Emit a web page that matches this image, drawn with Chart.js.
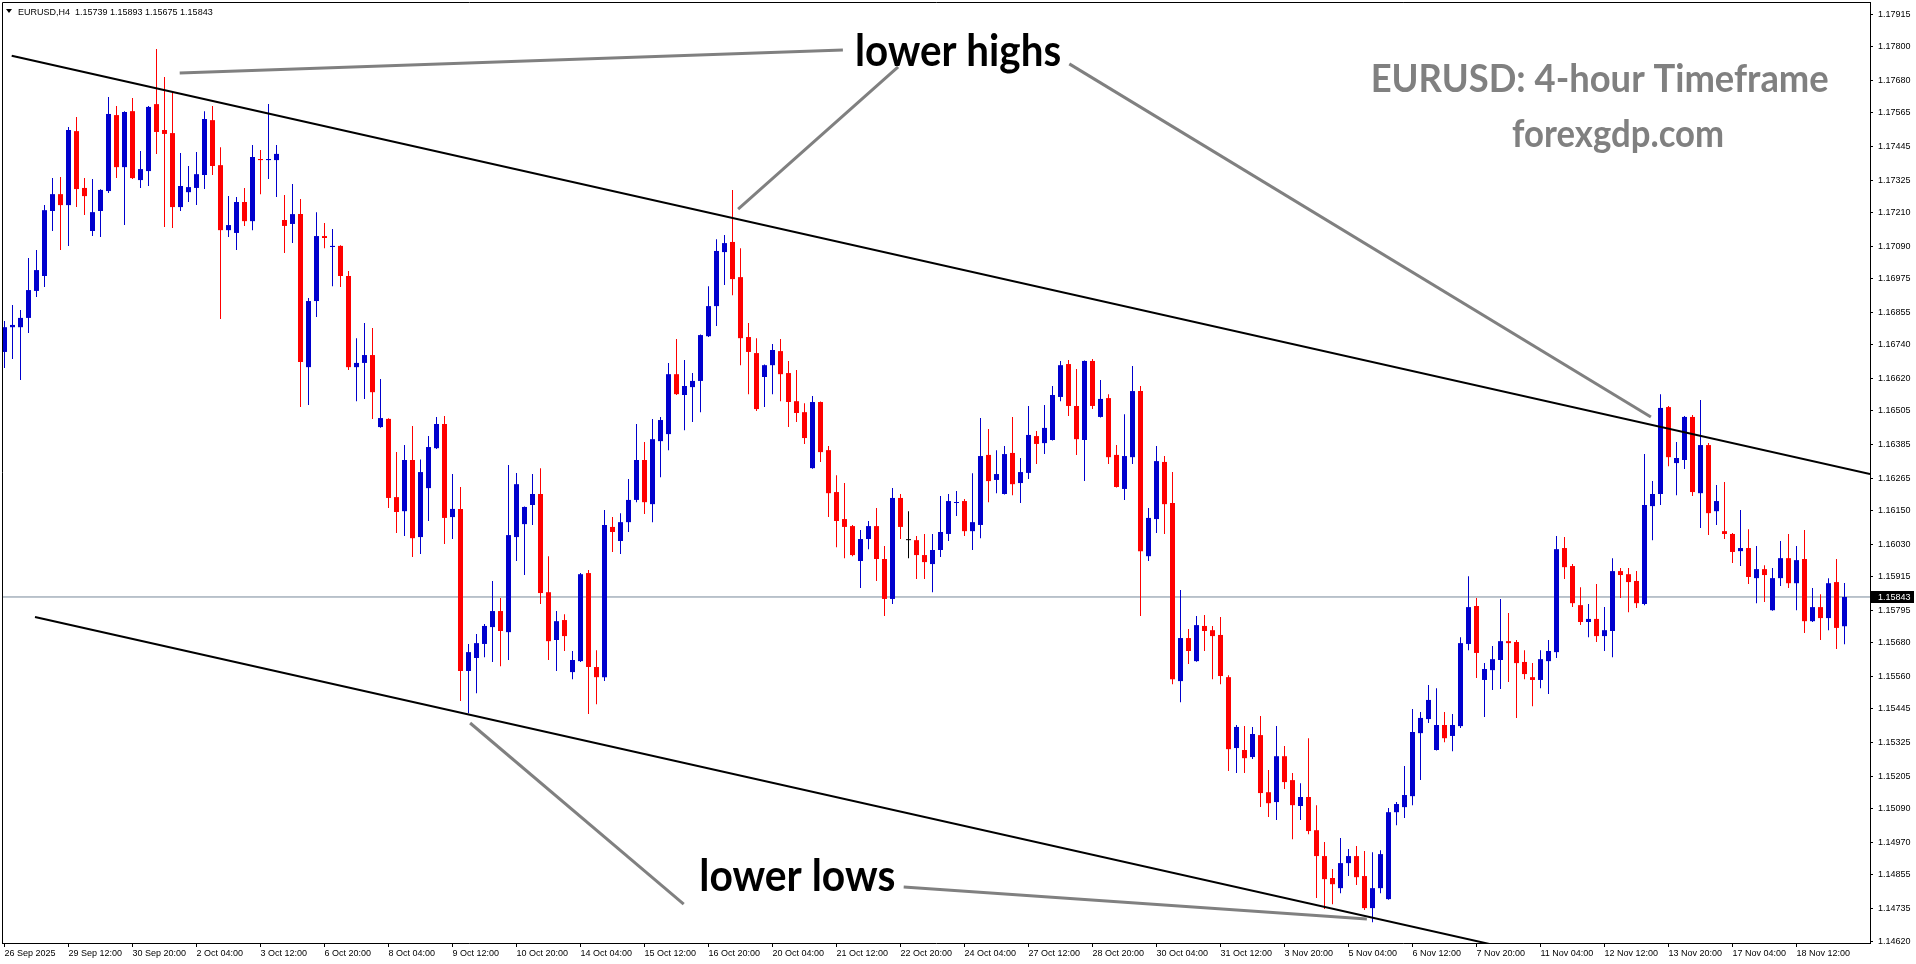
<!DOCTYPE html>
<html><head><meta charset="utf-8">
<script src="https://cdn.jsdelivr.net/npm/chart.js"></script>
<style>html,body{margin:0;padding:0;background:#fff;overflow:hidden}#wrap{width:1916px;height:964px}</style>
</head><body><div id="wrap"><canvas id="c" width="1916" height="964"></canvas></div>
<script>
// ---------------- data (EURUSD H4) ----------------
const chartTitle = 'EURUSD,H4';
const opens = [
1.16714,1.16802,1.16802,1.16835,1.16931,1.16984,1.17215,1.17275,1.17236,1.17499,
1.17297,1.17144,1.17215,1.17286,1.17556,1.17371,1.17570,1.17325,1.17357,1.17595,
1.17503,1.17492,1.17229,1.17282,1.17297,1.17343,1.17538,1.17378,1.17147,1.17137,
1.17247,1.17179,1.17400,1.17396,1.17396,1.17183,1.17169,1.17204,1.16660,1.16895,
1.17126,1.17087,1.17091,1.16984,1.16660,1.16675,1.16703,1.16447,1.16476,1.16198,
1.16148,1.16330,1.16056,1.16230,1.16372,1.16458,1.16127,1.16156,1.15580,1.15626,
1.15676,1.15736,1.15793,1.15718,1.16056,1.16102,1.16170,1.16209,1.15860,1.15690,
1.15761,1.15576,1.15615,1.15928,1.15594,1.15558,1.16092,1.16042,1.16109,1.16188,
1.16330,1.16173,1.16397,1.16422,1.16635,1.16561,1.16589,1.16611,1.16770,1.16877,
1.17069,1.17105,1.16980,1.16767,1.16710,1.16625,1.16667,1.16717,1.16639,1.16539,
1.16500,1.16301,1.16536,1.16365,1.16216,1.16120,1.16095,1.15971,1.16049,1.16095,
1.15978,1.15836,1.16195,1.16045,1.16045,1.15992,1.15960,1.16010,1.16067,1.16177,
1.16184,1.16077,1.16099,1.16348,1.16259,1.16209,1.16355,1.16248,1.16284,1.16415,
1.16390,1.16401,1.16554,1.16671,1.16522,1.16401,1.16682,1.16483,1.16550,1.16348,
1.16227,1.16340,1.16575,1.15988,1.16120,1.16323,1.16177,1.15544,1.15697,1.15615,
1.15740,1.15725,1.15708,1.15558,1.15306,1.15299,1.15274,1.15352,1.15149,1.15114,
1.15277,1.15192,1.15100,1.15132,1.15014,1.14922,1.14844,1.14808,1.14897,1.14922,
1.14851,1.14737,1.14808,1.14769,1.15078,1.15096,1.15135,1.15359,1.15409,1.15299,
1.15388,1.15349,1.15384,1.15676,1.15811,1.15548,1.15583,1.15619,1.15686,1.15683,
1.15612,1.15558,1.15548,1.15615,1.15647,1.16017,1.15953,1.15814,1.15754,1.15765,
1.15704,1.15722,1.15935,1.15924,1.15900,1.15818,1.16166,1.16209,1.16518,1.16319,
1.16330,1.16483,1.16212,1.16383,1.16148,1.16077,1.16067,1.16006,1.16017,1.15910,
1.15942,1.15796,1.15910,1.15981,1.15892,1.15978,1.15757,1.15807,1.15768,1.15896,
1.15739];
const highs = [
1.16824,1.16881,1.16863,1.17048,1.17076,1.17236,1.17332,1.17336,1.17514,1.17549,
1.17332,1.17329,1.17292,1.17620,1.17588,1.17570,1.17617,1.17428,1.17588,1.17791,
1.17691,1.17642,1.17421,1.17375,1.17425,1.17570,1.17588,1.17442,1.17268,1.17265,
1.17297,1.17450,1.17432,1.17595,1.17450,1.17272,1.17311,1.17258,1.16906,1.17211,
1.17172,1.17151,1.17093,1.17002,1.16763,1.16817,1.16799,1.16618,1.16478,1.16358,
1.16383,1.16451,1.16332,1.16415,1.16483,1.16486,1.16280,1.16234,1.15676,1.15711,
1.15747,1.15900,1.15839,1.16312,1.16284,1.16165,1.16280,1.16301,1.15988,1.15793,
1.15782,1.15651,1.15928,1.15939,1.15654,1.16152,1.16127,1.16141,1.16262,1.16458,
1.16394,1.16476,1.16483,1.16675,1.16760,1.16685,1.16639,1.16776,1.16948,1.17115,
1.17130,1.17290,1.17083,1.16817,1.16763,1.16669,1.16742,1.16760,1.16682,1.16650,
1.16532,1.16557,1.16538,1.16380,1.16276,1.16248,1.16099,1.16081,1.16113,1.16159,
1.16024,1.16230,1.16209,1.16148,1.16060,1.16067,1.16067,1.16202,1.16209,1.16220,
1.16191,1.16283,1.16479,1.16440,1.16365,1.16380,1.16483,1.16337,1.16522,1.16433,
1.16525,1.16593,1.16682,1.16685,1.16653,1.16684,1.16689,1.16614,1.16564,1.16383,
1.16493,1.16664,1.16593,1.16159,1.16380,1.16344,1.16287,1.15868,1.15729,1.15775,
1.15779,1.15740,1.15772,1.15565,1.15388,1.15384,1.15381,1.15420,1.15228,1.15384,
1.15313,1.15217,1.15181,1.15341,1.15103,1.14972,1.14876,1.14986,1.14947,1.14958,
1.14940,1.14936,1.14943,1.15093,1.15114,1.15242,1.15445,1.15434,1.15530,1.15519,
1.15434,1.15427,1.15700,1.15917,1.15839,1.15608,1.15669,1.15836,1.15786,1.15690,
1.15654,1.15608,1.15654,1.15690,1.16060,1.16056,1.15960,1.15878,1.15818,1.15889,
1.15807,1.15981,1.15946,1.15946,1.15935,1.16351,1.16255,1.16564,1.16522,1.16394,
1.16486,1.16490,1.16543,1.16390,1.16241,1.16252,1.16070,1.16152,1.16084,1.16024,
1.15956,1.15946,1.16042,1.16067,1.16024,1.16081,1.15875,1.15853,1.15910,1.15978,
1.15893];
const lows = [
1.16657,1.16689,1.16614,1.16781,1.16909,1.16945,1.17144,1.17076,1.17091,1.17229,
1.17201,1.17126,1.17123,1.17279,1.17332,1.17165,1.17329,1.17297,1.17304,1.17418,
1.17158,1.17155,1.17215,1.17247,1.17236,1.17293,1.17343,1.16831,1.17123,1.17076,
1.17162,1.17147,1.17275,1.17329,1.17265,1.17066,1.17101,1.16518,1.16525,1.16838,
1.17083,1.16948,1.16945,1.16650,1.16539,1.16547,1.16476,1.16445,1.16159,1.16070,
1.16060,1.15985,1.15996,1.16113,1.16369,1.16031,1.16049,1.15473,1.15430,1.15501,
1.15629,1.15612,1.15597,1.15619,1.15971,1.15921,1.16099,1.15818,1.15619,1.15580,
1.15651,1.15551,1.15612,1.15427,1.15462,1.15544,1.16003,1.15996,1.16074,1.16180,
1.16138,1.16109,1.16269,1.16365,1.16561,1.16436,1.16465,1.16500,1.16767,1.16806,
1.16952,1.16916,1.16667,1.16564,1.16504,1.16518,1.16564,1.16539,1.16447,1.16465,
1.16387,1.16299,1.16323,1.16127,1.16020,1.15981,1.15988,1.15875,1.16013,1.15900,
1.15775,1.15818,1.16049,1.15981,1.15907,1.15907,1.15860,1.15985,1.16042,1.16131,
1.16060,1.16010,1.16052,1.16180,1.16212,1.16207,1.16205,1.16177,1.16262,1.16316,
1.16351,1.16399,1.16539,1.16486,1.16348,1.16255,1.16511,1.16481,1.16316,1.16232,
1.16188,1.16316,1.15775,1.15971,1.16070,1.16067,1.15533,1.15469,1.15605,1.15613,
1.15651,1.15551,1.15533,1.15224,1.15217,1.15217,1.15267,1.15096,1.15061,1.15050,
1.15160,1.14982,1.15050,1.15000,1.14773,1.14734,1.14751,1.14790,1.14851,1.14819,
1.14730,1.14687,1.14790,1.14767,1.15032,1.15057,1.15103,1.15192,1.15395,1.15297,
1.15327,1.15295,1.15377,1.15654,1.15555,1.15416,1.15512,1.15516,1.15541,1.15413,
1.15551,1.15455,1.15519,1.15498,1.15626,1.15907,1.15807,1.15743,1.15700,1.15683,
1.15651,1.15629,1.15839,1.15789,1.15804,1.15814,1.16045,1.16170,1.16308,1.16205,
1.16298,1.16202,1.16088,1.16063,1.16099,1.16049,1.15964,1.15953,1.15889,1.15821,
1.15825,1.15794,1.15882,1.15875,1.15796,1.15715,1.15754,1.15690,1.15725,1.15658,
1.15675];
const closes = [
1.16802,1.16810,1.16835,1.16934,1.17005,1.17218,1.17275,1.17236,1.17503,1.17293,
1.17268,1.17211,1.17290,1.17560,1.17371,1.17567,1.17332,1.17364,1.17585,1.17496,
1.17489,1.17229,1.17304,1.17300,1.17346,1.17542,1.17375,1.17147,1.17165,1.17247,
1.17179,1.17407,1.17396,1.17400,1.17418,1.17162,1.17204,1.16678,1.16895,1.17126,
1.17119,1.17091,1.16984,1.16660,1.16675,1.16703,1.16571,1.16479,1.16195,1.16145,
1.16330,1.16052,1.16287,1.16376,1.16458,1.16124,1.16156,1.15580,1.15647,1.15679,
1.15740,1.15793,1.15722,1.16063,1.16244,1.16163,1.16209,1.15857,1.15686,1.15757,
1.15704,1.15619,1.15924,1.15594,1.15558,1.16099,1.16074,1.16109,1.16188,1.16330,
1.16180,1.16404,1.16472,1.16635,1.16564,1.16593,1.16611,1.16774,1.16877,1.17073,
1.17101,1.16973,1.16763,1.16714,1.16511,1.16667,1.16721,1.16635,1.16536,1.16497,
1.16408,1.16536,1.16358,1.16212,1.16113,1.16092,1.15992,1.16049,1.16095,1.15978,
1.15836,1.16195,1.16092,1.16045,1.15992,1.15967,1.16010,1.16074,1.16184,1.16180,
1.16077,1.16109,1.16344,1.16255,1.16280,1.16351,1.16244,1.16287,1.16419,1.16387,
1.16444,1.16561,1.16667,1.16522,1.16404,1.16682,1.16522,1.16547,1.16340,1.16234,
1.16344,1.16575,1.16006,1.16124,1.16326,1.16173,1.15551,1.15697,1.15651,1.15743,
1.15722,1.15704,1.15562,1.15302,1.15381,1.15270,1.15356,1.15146,1.15110,1.15277,
1.15185,1.15103,1.15132,1.15011,1.14922,1.14840,1.14822,1.14897,1.14922,1.14847,
1.14737,1.14808,1.14929,1.15078,1.15107,1.15139,1.15363,1.15413,1.15477,1.15388,
1.15341,1.15388,1.15679,1.15807,1.15644,1.15587,1.15622,1.15686,1.15679,1.15608,
1.15569,1.15548,1.15622,1.15651,1.16013,1.15949,1.15821,1.15754,1.15765,1.15704,
1.15725,1.15935,1.15921,1.15896,1.15821,1.16170,1.16209,1.16515,1.16340,1.16337,
1.16483,1.16216,1.16383,1.16141,1.16184,1.16067,1.16003,1.16017,1.15914,1.15942,
1.15921,1.15910,1.15981,1.15892,1.15974,1.15757,1.15807,1.15768,1.15892,1.15733,
1.15843];
// time-axis labels, one every 8 bars
const barsPerTimeLabel = 8;
const xTickLabels = ['26 Sep 2025','29 Sep 12:00','30 Sep 20:00','2 Oct 04:00','3 Oct 12:00','6 Oct 20:00','8 Oct 04:00','9 Oct 12:00','10 Oct 20:00','14 Oct 04:00','15 Oct 12:00','16 Oct 20:00','20 Oct 04:00','21 Oct 12:00','22 Oct 20:00','24 Oct 04:00','27 Oct 12:00','28 Oct 20:00','30 Oct 04:00','31 Oct 12:00','3 Nov 20:00','5 Nov 04:00','6 Nov 12:00','7 Nov 20:00','11 Nov 04:00','12 Nov 12:00','13 Nov 20:00','17 Nov 04:00','18 Nov 12:00'];
// price-axis labels
const yTickLabels = ['1.17915','1.17800','1.17680','1.17565','1.17445','1.17325','1.17210','1.17090','1.16975','1.16855','1.16740','1.16620','1.16505','1.16385','1.16265','1.16150','1.16030','1.15915','1.15795','1.15680','1.15560','1.15445','1.15325','1.15205','1.15090','1.14970','1.14855','1.14735','1.14620'];
const lastPrice = 1.15843;
// trend lines & pointers, as [bar index, price] pairs
const upperTrend = [[0.9, 1.17767], [233.19, 1.16280]];
const lowerTrend = [[3.81, 1.15772], [185.7, 1.14609]];
const pointerLines = [
  [[21.9, 1.17706], [104.8, 1.17787]],
  [[133.1, 1.17738], [205.8, 1.16483]],
  [[111.7, 1.17727], [91.7, 1.17222]],
  [[58.2, 1.15395], [84.9, 1.14751]],
  [[112.4, 1.14812], [170.3, 1.14698]]
];
const noteTexts = ['lower highs', 'lower lows', 'EURUSD: 4-hour Timeframe', 'forexgdp.com'];
const noteAnchors = [[119.2, 1.17730], [99.1, 1.14797], [199.4, 1.17638], [201.7, 1.17442]];

// ---------------- styling ----------------
const noteStyles = [
  {size: 43, width: 206, color: '#000000'},
  {size: 43, width: 196, color: '#000000'},
  {size: 39, width: 458, color: '#808080'},
  {size: 38, width: 212, color: '#808080'}
];
const UP = '#0000cd', DOWN = '#ff0000', FLAT = '#000000';
const AXIS_FONT = {family: 'Liberation Sans, Arial, sans-serif', size: 9};
const idx = opens.map((_, i) => i);
const candleColor = (c) => {
  const i = c.dataIndex;
  if (i === undefined) return UP;
  return closes[i] > opens[i] ? UP : (closes[i] < opens[i] ? DOWN : FLAT);
};
const X_MIN = -0.3125, X_MAX = 233.1875;
const Y_MIN = 1.14613, Y_MAX = 1.17958;
const toXY = (pts) => pts.map(p => ({x: p[0], y: p[1]}));
const lineDS = (pts, color, width, order) => ({
  type: 'line', data: toXY(pts), borderColor: color, borderWidth: width,
  pointRadius: 0, tension: 0, fill: false, order, borderCapStyle: 'butt'
});

const overlay = {
  id: 'mt4overlay',
  afterDraw(chart) {
    const ctx = chart.ctx, a = chart.chartArea;
    const xs = chart.scales.x, ys = chart.scales.y;
    ctx.save();
    // frame left/top
    ctx.strokeStyle = '#000'; ctx.lineWidth = 1;
    ctx.beginPath();
    ctx.moveTo(a.left + 0.5, a.bottom); ctx.lineTo(a.left + 0.5, a.top + 0.5); ctx.lineTo(a.right, a.top + 0.5);
    ctx.stroke();
    // title with triangle
    ctx.fillStyle = '#000';
    ctx.beginPath();
    ctx.moveTo(a.left + 4, a.top + 7); ctx.lineTo(a.left + 10, a.top + 7); ctx.lineTo(a.left + 7, a.top + 11);
    ctx.closePath(); ctx.fill();
    ctx.font = '9px Liberation Sans, Arial, sans-serif';
    ctx.textBaseline = 'alphabetic'; ctx.textAlign = 'left';
    const n = opens.length - 1;
    const f = v => v.toFixed(5);
    ctx.fillText(chartTitle + '  ' + f(opens[n]) + ' ' + f(highs[n]) + ' ' + f(lows[n]) + ' ' + f(closes[n]), a.left + 16, a.top + 13);
    // notes
    noteTexts.forEach((t, k) => {
      const st = noteStyles[k];
      ctx.save();
      ctx.font = 'bold ' + st.size + 'px Lato, sans-serif';
      const w = ctx.measureText(t).width;
      ctx.translate(xs.getPixelForValue(noteAnchors[k][0]), ys.getPixelForValue(noteAnchors[k][1]));
      ctx.scale(st.width / w, 1);
      ctx.fillStyle = st.color; ctx.textAlign = 'center'; ctx.textBaseline = 'alphabetic';
      ctx.fillText(t, 0, 0);
      ctx.restore();
    });
    // current price box on axis
    const py = Math.round(ys.getPixelForValue(lastPrice));
    ctx.fillStyle = '#000';
    ctx.fillRect(a.right + 1, py - 6, 43, 12);
    ctx.fillStyle = '#fff';
    ctx.font = '9px Liberation Sans, Arial, sans-serif';
    ctx.textBaseline = 'middle'; ctx.textAlign = 'left';
    ctx.fillText(lastPrice.toFixed(5), a.right + 8, py + 0.5);
    ctx.restore();
  }
};

const datasets = [
  lineDS([[X_MIN, lastPrice], [X_MAX, lastPrice]], '#778899', 1, 6),
  {type: 'bar', data: idx.map(i => ({x: i, y: [lows[i], highs[i]]})), backgroundColor: candleColor,
   grouped: false, barPercentage: 1, categoryPercentage: 1, maxBarThickness: 1, inflateAmount: 0, borderWidth: 0, order: 5},
  {type: 'bar', data: idx.map(i => ({x: i, y: [opens[i], closes[i]]})), backgroundColor: candleColor,
   grouped: false, barPercentage: 1, categoryPercentage: 1, maxBarThickness: 5, inflateAmount: 0, borderWidth: 0, minBarLength: 1, order: 4},
  lineDS(upperTrend, '#000000', 2, 2),
  lineDS(lowerTrend, '#000000', 2, 2)
].concat(pointerLines.map(p => lineDS(p, '#808080', 3, 1)));

const zeroPad = s => { s.paddingLeft = 0; s.paddingRight = 0; s.paddingTop = 0; s.paddingBottom = 0; };

new Chart(document.getElementById('c'), {
  type: 'bar',
  data: {datasets},
  options: {
    responsive: false, maintainAspectRatio: false, animation: false, devicePixelRatio: 1,
    events: [],
    layout: {padding: {left: 2, top: 2, right: 0, bottom: 0}},
    plugins: {legend: {display: false}, tooltip: {enabled: false}},
    scales: {
      x: {
        type: 'linear', min: X_MIN, max: X_MAX, offset: false,
        grid: {drawOnChartArea: false, drawTicks: true, tickLength: 4, color: '#000', offset: false},
        border: {display: true, color: '#000', width: 1},
        ticks: {autoSkip: false, maxRotation: 0, minRotation: 0, align: 'start', padding: 1, color: '#000', font: AXIS_FONT,
                callback: (v, i) => xTickLabels[i]},
        afterBuildTicks: s => { s.ticks = xTickLabels.map((_, k) => ({value: k * barsPerTimeLabel})); },
        afterFit: s => { s.height = 21; zeroPad(s); }
      },
      y: {
        type: 'linear', position: 'right', min: Y_MIN, max: Y_MAX,
        grid: {drawOnChartArea: false, drawTicks: true, tickLength: 3, color: '#000'},
        border: {display: true, color: '#000', width: 1},
        ticks: {autoSkip: false, padding: 5, color: '#000', font: AXIS_FONT, callback: (v, i) => yTickLabels[i]},
        afterBuildTicks: s => { s.ticks = yTickLabels.map(t => ({value: parseFloat(t)})); },
        afterFit: s => { s.width = 46; zeroPad(s); }
      }
    }
  },
  plugins: [overlay]
});
</script>
</body></html>
